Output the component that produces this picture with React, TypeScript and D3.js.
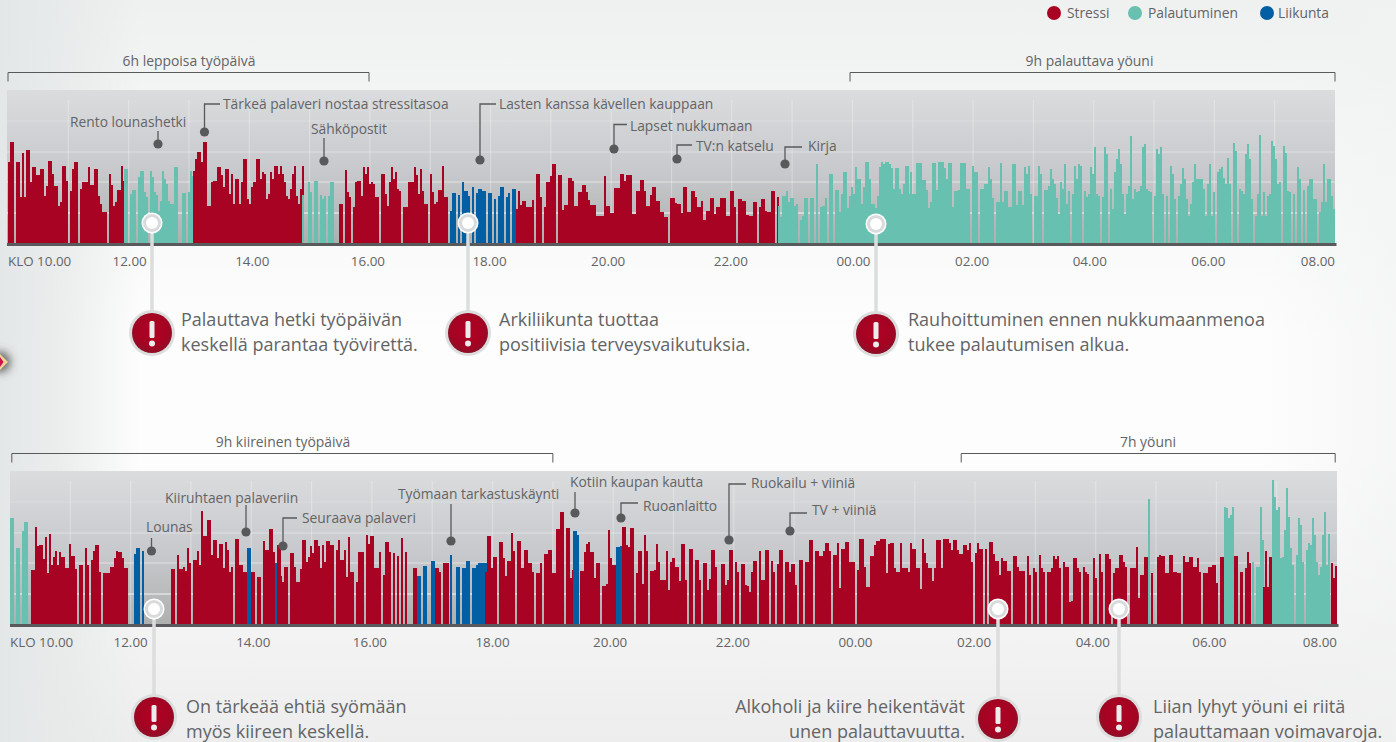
import React from "react";
import * as d3 from "d3";

const FONT = "'Open Sans', sans-serif";
const INK = "#636466";
const KIND_COLOURS: Record<string, string> = { s: "#a90324", r: "#68c0b0", l: "#035fa3" };

const legendNames = ["Stressi", "Palautuminen", "Liikunta"];
const legendKinds = ["s", "r", "l"];
const tickHours = [0, 2, 4, 6, 8, 10, 12, 14, 16, 18, 20, 22];
const tickNames = ["KLO 10.00", "12.00", "14.00", "16.00", "18.00", "20.00", "22.00", "00.00", "02.00", "04.00", "06.00", "08.00"];
const tickNudgeOne = [0, 1, 3, -2, -1, -3, -1, 1, -1, -4, -6, 0];
const tickNudgeTwo = [0, 0, 2, -2, 0, -3, -1, 1, -1, -3, -7, 0];
const gridLevels = [31, 62, 92, 123];

// ---- day one (bar heights, one bar for each two minutes) ----
const d1a = [82,102,102,0,82,82,47,91,47,94,94,62,77,77,69,69,75,75,48,58,83,83,70,58,58,38,42,78,78,63,0,53,75,82,82,0,55,62,62,62,77,59,59,75,75,48,40,32,32,0,70,59,38,42,54,54,78,63];
const d1b = [75,75,0,50,54,54,0,67,73,73,52,47,0,73,67,52,49,33,43,73,65,60,43,40,40,77,77,0,0,51,51,0,52,73,68];
const d1c = [73,85,92,92,82,102,102,38,38,62,63,63,77,77,69,57,75,75,50,70,40,65,65,40,62,85,85,45,40,57,62,85,85,65,72,70,45,50,72,65,78,78,70,78,70,62,48,45,55,70,78,48,40,55,78];
const d1d = [49,0,0,62,52,0,63,63,0,49,45,48,0,48,62,62];
const d1e = [40,40,0,74,52,47,0,37,62,63,63,48,77,70,77,60,62,60,47,47,0,70,70,50,38,62,77,65,72,55,53,0,37,37,62,62,62,77,69,50,75,53,40,40,0,70,52,40,42,54,54,78,47,47];
const d1f = [33,51,51,0,49,0,62,53,53,48,0,57,0,51,55,55,53,53,0,51,51,0,45,0,48,57,57,0,47,51,0,55,55];
const d1g = [35,53,39,43,43,37,37,37,44,0,70,70,47,0,37,62,62,68,80,80,0,69,69,34,39,39,66,66,63,38,38,52,52,59,59,52,44,39,39,39,28,28,28,28,68,38,38,31,31,56,56,56];
const d1k = [70,70,63,69,69,69,30,30,53,53,64,64,53,38,38,49,57,57,43,43,32,32,27,27,0,46,46,41,40,40,31,57,57,32,32,53,53,47,37,37,43];
const d1l = [24,24,33,33,46,46,30,37,37,46,46,46,28,28,53,53,37,0,45,45,43,43,29,28,28,42,42,0,37,45,45,33,32,32,53,53,0,47];
const d1h = [38,27,48,48,53,42,46,46,38,40,0,24,28,46,46,0,46,46,0,80,0,37,38,46,0,70,70,0,54,54,32,50,72,72,36,48,57,50,77,65,65,40,57,82,82,65,40,40,36,48,77,82,80,82,82,80,76,55,76,76,55,50,60,78,78,50];
const d1i = [72,50,50,81,81,81,64,64,54,36,42,81,81,54,82,82,82,76,65,81,81,37,53,53,54,81,81,81,55,55,0,78,72,72,0,55,55,60,60,77,65,46,0,42,42,81,42,53,53,37,37,80,80,39,53,53,39,77,70,78,50,0,48,48,78,70,0];
const d1j = [54,54,58,75,65,60,46,30,62,55,80,40,53,0,50,78,65,80,78,0,53,47,50,77,70,97,50,48,0,47,97,90,0,55,35,72,85,95,80,50,30,50,58,108,45,55,52,53,58,97,100,55,53,52,0,48,95,90,97,50,0,48,0,78,70,45,0,48,60,76,65,45,28,40,62,80,65,65,65,55,28,60,80,28,52,0,72,75,77,66,60,86,60,0,101,93,0,55,53,50,90,100,85,45,0,28,50,109,28,52,28,48,50,103,98,85,60,62,0,98,91,53,52,0,50,0,77,65,0,54,0,58,65,65,45,45,0,32,42,80,42,65,65,48,35,76];

// ---- day two ----
const d2a = [107,107,0,77,77,0,94,103,103,0,0];
const d2b = [55,55,98,79,80,80,66,88,52,91,60,68,74,60,73,68,68,57,57,81,69,69,56,0,60,60,0,77,60,0,65,74,80,80,53,0,52,52,52,58,58,67,74,73,73,67,57,57];
const d2c = [71,77,77,0,74];
const d2d = [56,56,0,70,56,56,58,54,77,62,0,65,65,74,60,114,89,89,105,105,70,85,85,67,81,81,57,83,75,53,58,0,86,86,60,60,53,53];
const d2e = [77,77];
const d2f = [53,53,0,48,48,0,84,75,75,96,96,73,60,80,80];
const d2g = [62];
const d2h = [49,43,58,58,0,72,72,58,43,43,56,85,85,63,68,79,72,85,85,79,57,80,63,84,84,80,80,0,75,85,65,65,75,48,88,53,53,0,43,73,73,73,0,90,81,89,89,57,57,73,0,50,83,83,73,0,72,0,69,0,87,0,73,0,0,0,57,57];
const d2i = [49,49,0,59,59,0,0,64,64,0,0];
const d2j = [57,57,53,0,62,62,62,0];
const d2k = [70,0,0,58,58,0,57,57,64,64,0,57,57,60,62,62,62,62];
const d2l = [53,89,89,57,68,68,0,83,83,67,49,64,64,92,74,0,84,84,57,75,75,62,62,53,0,52,52,62,0,71,71,75,75,52,52,96,96,113,113,0,97,97,47,55];
const d2m = [94,94,90];
const d2n = [54,54,73,81,83,73,73,47,62,62,0,39,39,41,95,67,60,60,43,0];
const d2o = [78,78,79];
const d2p = [98,98,80,78,97,97,0,52,74,74,41,90,74,0,54,54,55,81,63,45,45,45,74,35,63,67,58,58,44,81,81,45,0,76,76,0,65,65,45,0,62,62,35,46,75,75,58,0,0,61,61,40,45,75,75,0,63,53,0,61,61,40,39,33,53,64,64,0,74,45,45,75,75,0,64,53,0,61,75,75,0,63,63,53,61,61,40,0,65,65,0,63,63,85,85,0,74,74,69,69,74,82,82,74,0,70,70,82,37,76,76,83,83,63,63,63,0,55,86,86,58,38,38,69,69,80,84,84,86,86,86,52,81,82,82,57,53,53,53];
const d2q = [82,57,57,57,53,82,76,76,57,57,36,86,72,62,57,57,44,57,85,85,57,86,86,86,82,75,85,85,75,71,71,80,80,75,82,63,0,72,82,76,76,0,76,0,83,83,71,64,64,50,67,64,64,54,54,0,69,69,58,54,54,54,0,69,50,0,57,53,0,70,57,53,0,53,53,57,69,66,69,57,0,63,58,58,23,24,67,67,57,53,0,58,53,51,0,0,67,47,0,71,53,0,71,71,66,0,52,57,57,70,70,63,58,0,57,57,57,78,27,50,50,68,68,72];
const d2r = [126];
const d2s = [52,0,0,68,70,69,69,52,52,70,70,53,53,52,52,0,69,63,63,68,68,58,58,67,53,0,52,52,58,58,60,60,42,0,68,68,53];
const d2t = [118,117,107,110,118];
const d2u = [69,69,0,53,0,57,73,62];
const d2v = [63,0,58,58,118,85];
const d2w = [38,74,38,68,68];
const d2x = [145,128,115,118,67,68,95,137,108,77,60,0,70,107,100,63,0,75,82,80,107,90,63,50,58,90,113,60,91];
const d2y = [62,47,59];

// each run: what kind of bars, at how many hours after 10.00 it starts, heights
const dayOneKinds = ["s","r","s","r","s","l","s","s","s","r","r","r"];
const dayOneStarts = [0,1.92,3.07,4.87,5.49,7.33,8.42,10.15,11.51,12.77,14.95,17.17];
const dayOneValues = [d1a,d1b,d1c,d1d,d1e,d1f,d1g,d1k,d1l,d1h,d1i,d1j];
const dayTwoKinds = ["r","s","l","s","l","s","l","s","l","s","l","s","l","s","l","s","s","r","s","r","s","r","s","r","s"];
const dayTwoStarts = [0,0.35,2.06,2.67,3.93,3.995,4.40,4.476,6.747,7.05,7.3,7.88,9.33,9.455,10.05,10.15,14.76,18.87,18.92,20.13,20.3,20.59,20.77,20.92,21.9];
const dayTwoValues = [d2a,d2b,d2c,d2d,d2e,d2f,d2g,d2h,d2i,d2j,d2k,d2l,d2m,d2n,d2o,d2p,d2q,d2r,d2s,d2t,d2u,d2v,d2w,d2x,d2y];

const dayOneBrackets = [
  { name: "6h leppoisa työpäivä", from: 0, to: 5.985, mid: 189 },
  { name: "9h palauttava yöuni", from: 13.96, to: 22, mid: 1089.5 },
];
const dayTwoBrackets = [
  { name: "9h kiireinen työpäivä", from: 0.03, to: 9.0, mid: 283 },
  { name: "7h yöuni", from: 15.77, to: 21.97, mid: 1148 },
];

const dayOneNotes = [
  { t: "Rento lounashetki", dx: 158, dy: 144, lx: 70, ly: 127, ey: 131 },
  { t: "Tärkeä palaveri nostaa stressitasoa", dx: 204.5, dy: 132, lx: 223, ly: 109, ey: 104, ex: 220 },
  { t: "Sähköpostit", dx: 324, dy: 161, lx: 311, ly: 134, ey: 138 },
  { t: "Lasten kanssa kävellen kauppaan", dx: 480, dy: 160, lx: 499, ly: 109, ey: 104, ex: 496 },
  { t: "Lapset nukkumaan", dx: 614, dy: 149, lx: 630, ly: 131, ey: 124.5, ex: 627 },
  { t: "TV:n katselu", dx: 677, dy: 159, lx: 696, ly: 151, ey: 145, ex: 692 },
  { t: "Kirja", dx: 785, dy: 164, lx: 808, ly: 151, ey: 147, ex: 802 },
];
const dayTwoNotes = [
  { t: "Lounas", dx: 151.5, dy: 551, lx: 146, ly: 532, ey: 538 },
  { t: "Kiiruhtaen palaveriin", dx: 246, dy: 532, lx: 165, ly: 503, ey: 505 },
  { t: "Seuraava palaveri", dx: 283, dy: 546, lx: 302, ly: 523, ey: 518, ex: 297 },
  { t: "Työmaan tarkastuskäynti", dx: 451, dy: 541, lx: 398, ly: 499, ey: 504 },
  { t: "Kotiin kaupan kautta", dx: 575, dy: 513, lx: 570, ly: 487, ey: 492 },
  { t: "Ruoanlaitto", dx: 621, dy: 518, lx: 643, ly: 511, ey: 503, ex: 638 },
  { t: "Ruokailu + viiniä", dx: 729, dy: 540, lx: 751, ly: 488, ey: 484, ex: 746 },
  { t: "TV + viiniä", dx: 790, dy: 531, lx: 812, ly: 515, ey: 513, ex: 807 },
];

const callouts = [
  { px: 152, py: 223, by: 333, lines: ["Palauttava hetki työpäivän", "keskellä parantaa työvirettä."], tx: 181, anchor: "start", ty: 326 },
  { px: 468, py: 223, by: 333, lines: ["Arkiliikunta tuottaa", "positiivisia terveysvaikutuksia."], tx: 499, anchor: "start", ty: 326 },
  { px: 876, py: 224, by: 334, lines: ["Rauhoittuminen ennen nukkumaanmenoa", "tukee palautumisen alkua."], tx: 908, anchor: "start", ty: 326 },
  { px: 154, py: 609, by: 717, lines: ["On tärkeää ehtiä syömään", "myös kiireen keskellä."], tx: 186, anchor: "start", ty: 713 },
  { px: 998, py: 609, by: 719, lines: ["Alkoholi ja kiire heikentävät", "unen palauttavuutta."], tx: 965, anchor: "end", ty: 713 },
  { px: 1119, py: 609, by: 717, lines: ["Liian lyhyt yöuni ei riitä", "palauttamaan voimavaroja."], tx: 1153, anchor: "start", ty: 713 },
];

const PLOT_H = 154;
const BAR_HOURS = 1 / 30;

function Day({ x0, plotLeft, top, kinds, starts, values, brackets, notes, bracketY, nudges }: any) {
  const right = x0 + 1327;
  const x = d3.scaleLinear().domain([0, 22]).range([x0, right]);
  const baseline = top + PLOT_H;
  const y = d3.scaleLinear().domain([0, PLOT_H]).range([baseline, top]);
  const hours = d3.range(1, 22);
  return (
    <g fontFamily={FONT}>
      <rect x={plotLeft} y={top} width={right - plotLeft} height={PLOT_H} fill="url(#plotBg)" />
      {gridLevels.map((g, i) => (
        <line key={g} x1={plotLeft} x2={right} y1={y(g)} y2={y(g)} stroke="#fff" strokeOpacity={[0.85, 0.5, 0.38, 0.2][i]} strokeWidth={1.2} />
      ))}
      {hours.map((h) => (
        <line key={h} x1={x(h)} x2={x(h)} y1={top + 10} y2={baseline} stroke="#fff" strokeOpacity={0.28} strokeWidth={1.2} />
      ))}
      {values.map((vals: number[], ri: number) =>
        vals.map((v, i) => {
          const a = Math.round(x(starts[ri] + i * BAR_HOURS));
          const b = Math.round(x(starts[ri] + (i + 1) * BAR_HOURS));
          return v > 0 && a < right ? (
            <rect key={ri + "-" + i} x={a} y={y(v)} width={Math.min(b, right) - a} height={baseline - y(v)} fill={KIND_COLOURS[kinds[ri]]} shapeRendering="crispEdges" />
          ) : null;
        })
      )}
      <rect x={plotLeft} y={baseline - 1} width={right + 1.5 - plotLeft} height={3} fill="#5a5a5c" />
      {tickHours.map((h, i) => (
        <text key={h} x={x(h) + nudges[i]} y={baseline + 22} fontSize={13.4} fill={INK}
          textAnchor={i === 0 ? "start" : i === tickHours.length - 1 ? "end" : "middle"}>{tickNames[i]}</text>
      ))}
      {brackets.map((b: any) => (
        <g key={b.name}>
          <path d={`M${x(b.from)},${bracketY + 9}V${bracketY}H${x(b.to)}V${bracketY + 9}`} fill="none" stroke="#58595b" strokeWidth={1} />
          <text x={b.mid} y={bracketY - 7} fontSize={13.9} fill={INK} textAnchor="middle">{b.name}</text>
        </g>
      ))}
      {notes.map((n: any) => (
        <g key={n.t}>
          <path d={n.ex ? `M${n.dx},${n.dy}V${n.ey}H${n.ex}` : `M${n.dx},${n.dy}V${n.ey}`} fill="none" stroke="#58595b" strokeWidth={1.3} />
          <circle cx={n.dx} cy={n.dy} r={4.6} fill="#58595b" />
          <text x={n.lx} y={n.ly} fontSize={13.8} fill={INK}>{n.t}</text>
        </g>
      ))}
    </g>
  );
}

function Callout({ c }: any) {
  return (
    <g fontFamily={FONT}>
      <rect x={c.px - 1.75} y={c.py} width={3.5} height={c.by - c.py} fill="#dcdddd" />
      <circle cx={c.px} cy={c.py} r={10.5} fill="#fff" />
      <circle cx={c.px} cy={c.py} r={9} fill="#d9dadb" />
      <circle cx={c.px} cy={c.py} r={6} fill="#fff" />
      <circle cx={c.px} cy={c.by} r={23} fill="#dcdddd" />
      <circle cx={c.px} cy={c.by} r={20} fill="url(#alertRed)" />
      <rect x={c.px - 2.5} y={c.by - 12} width={5} height={17} rx={1.5} fill="#ececec" />
      <circle cx={c.px} cy={c.by + 10.5} r={3} fill="#ececec" />
      {c.lines.map((l: string, i: number) => (
        <text key={l} x={c.tx} y={c.ty + i * 25} fontSize={18} fill={INK} textAnchor={c.anchor}>{l}</text>
      ))}
    </g>
  );
}

export default function App() {
  const legendX = d3.scaleOrdinal<string, number>().domain(legendKinds).range([1054, 1135, 1267]);
  const legendTextX = d3.scaleOrdinal<string, number>().domain(legendKinds).range([1067, 1148, 1278]);
  return (
    <svg width={1396} height={742} viewBox="0 0 1396 742" style={{ position: "absolute", left: 0, top: 0 }}>
      <defs>
        <linearGradient id="plotBg" x1="0" x2="0" y1="0" y2="1">
          <stop offset="0" stopColor="#dbdcde" />
          <stop offset="0.55" stopColor="#c7c8cb" />
          <stop offset="1" stopColor="#aeafaf" />
        </linearGradient>
        <linearGradient id="pageV" x1="0" x2="0" y1="0" y2="1">
          <stop offset="0" stopColor="#eff1f1" />
          <stop offset="0.45" stopColor="#fdfdfd" />
          <stop offset="0.62" stopColor="#fdfdfd" />
          <stop offset="1" stopColor="#ededed" />
        </linearGradient>
        <linearGradient id="pageL" x1="0" x2="1" y1="0" y2="0">
          <stop offset="0" stopColor="#e4e7e7" stopOpacity="1" />
          <stop offset="0.04" stopColor="#e6e9e9" stopOpacity="0.8" />
          <stop offset="0.1" stopColor="#e4e7e7" stopOpacity="0" />
          <stop offset="0.9" stopColor="#f1f2f2" stopOpacity="0" />
          <stop offset="1" stopColor="#f1f2f2" stopOpacity="0.6" />
        </linearGradient>
        <radialGradient id="alertRed" cx="0.5" cy="0.45" r="0.55">
          <stop offset="0" stopColor="#b00226" />
          <stop offset="0.7" stopColor="#a50322" />
          <stop offset="1" stopColor="#8d1028" />
        </radialGradient>
        <filter id="soft" x="-150%" y="-150%" width="400%" height="400%">
          <feGaussianBlur stdDeviation="5" />
        </filter>
      </defs>
      <rect width={1396} height={742} fill="url(#pageV)" />
      <rect width={1396} height={742} fill="url(#pageL)" />
      <circle cx={0} cy={362} r={10} fill="#555" filter="url(#soft)" />
      <polygon points="-8,362 0,354 8,362 0,370" fill="#f3d19a" />
      <polygon points="-5,362 0,357 3.5,362 0,367" fill="#d0104a" />

      {legendKinds.map((k, i) => (
        <g key={k} fontFamily={FONT}>
          <circle cx={legendX(k)} cy={13} r={7} fill={KIND_COLOURS[k]} />
          <text x={legendTextX(k)} y={18} fontSize={13.8} fill={INK}>{legendNames[i]}</text>
        </g>
      ))}

      <Day x0={8} plotLeft={7} top={90} kinds={dayOneKinds} starts={dayOneStarts} values={dayOneValues} brackets={dayOneBrackets} notes={dayOneNotes} bracketY={72.5} nudges={tickNudgeOne} />
      <Day x0={10} plotLeft={10} top={471} kinds={dayTwoKinds} starts={dayTwoStarts} values={dayTwoValues} brackets={dayTwoBrackets} notes={dayTwoNotes} bracketY={453.5} nudges={tickNudgeTwo} />
      {callouts.map((c) => <Callout key={c.px + "-" + c.by} c={c} />)}
    </svg>
  );
}
